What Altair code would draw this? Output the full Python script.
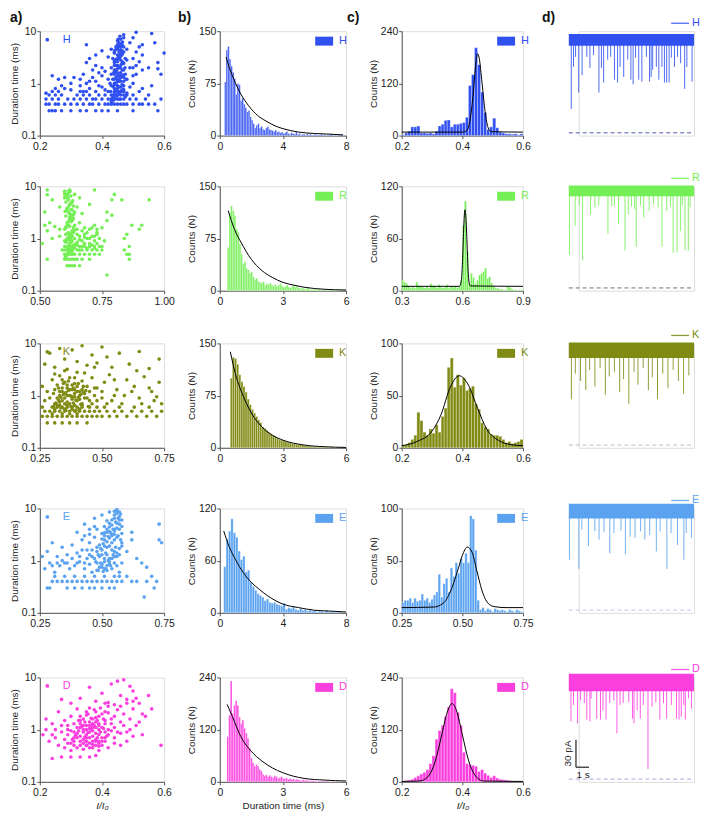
import altair as alt
import pandas as pd

FONT = "Liberation Sans"

SERIES = ["H", "R", "K", "E", "D"]
COLORS = ["#3050f0", "#74ef55", "#7f8b12", "#5ba3f0", "#fb3fdf"]
DASH_COLORS = ["#4d5aa8", "#707070", "#bcbcbc", "#b9c9f0", "#a0a8e0"]

# ---------------- column a : scatter (I/I0 vs duration) ----------------
SC_XDOM = [[0.2, 0.6], [0.5, 1.0], [0.25, 0.75], [0.25, 0.75], [0.2, 0.6]]
SC_XTICKS = [[0.2, 0.4, 0.6], [0.5, 0.75, 1.0], [0.25, 0.5, 0.75], [0.25, 0.5, 0.75], [0.2, 0.4, 0.6]]
SC_XFMT = [".1f", ".2f", ".2f", ".2f", ".1f"]

H_rows = {
    0.3: [0.23, 0.24, 0.25, 0.27, 0.30, 0.33, 0.35, 0.38, 0.40, 0.42, 0.45, 0.50, 0.58],
    0.4: [0.22, 0.23, 0.25, 0.26, 0.28, 0.30, 0.32, 0.34, 0.36, 0.37, 0.39, 0.41, 0.42, 0.43, 0.44, 0.45,
          0.46, 0.47, 0.48, 0.50, 0.52, 0.53, 0.55, 0.57],
    0.5: [0.22, 0.24, 0.26, 0.29, 0.31, 0.33, 0.35, 0.37, 0.38, 0.40, 0.42, 0.43, 0.44, 0.45, 0.46, 0.47,
          0.49, 0.51, 0.54, 0.59],
    0.6: [0.23, 0.25, 0.27, 0.32, 0.34, 0.36, 0.39, 0.41, 0.43, 0.44, 0.45, 0.46, 0.48, 0.50, 0.55],
    0.7: [0.24, 0.33, 0.35, 0.38, 0.42, 0.44, 0.45, 0.46, 0.47, 0.52],
}
H_free = [
    (0.22, 0.65), (0.25, 0.8), (0.27, 0.9), (0.30, 0.75), (0.33, 0.9), (0.35, 1.0), (0.36, 0.8), (0.38, 1.1),
    (0.40, 0.85), (0.42, 1.2), (0.43, 0.9), (0.44, 1.0), (0.445, 1.3), (0.45, 0.8), (0.455, 1.1), (0.46, 1.4),
    (0.47, 0.9), (0.48, 1.2), (0.50, 1.0), (0.51, 1.5), (0.53, 0.8), (0.56, 0.9),
    (0.24, 1.4), (0.26, 1.2), (0.28, 1.3), (0.31, 1.3), (0.34, 1.5), (0.35, 2.5), (0.36, 3.0), (0.37, 1.8),
    (0.38, 2.2), (0.39, 1.6), (0.40, 2.0), (0.41, 1.7), (0.43, 2.0), (0.44, 2.5), (0.445, 1.8), (0.45, 2.2),
    (0.455, 3.0), (0.46, 2.0), (0.465, 2.6), (0.47, 1.8), (0.48, 2.8), (0.49, 2.0), (0.50, 3.0), (0.51, 2.2),
    (0.53, 1.8), (0.55, 2.0), (0.58, 1.9), (0.59, 1.5),
    (0.35, 5.5), (0.38, 3.5), (0.40, 4.2), (0.42, 3.2), (0.43, 4.5), (0.44, 3.8), (0.445, 5.0), (0.45, 6.5),
    (0.455, 4.0), (0.46, 7.0), (0.465, 5.5), (0.47, 8.5), (0.48, 4.5), (0.49, 6.0), (0.50, 7.5), (0.51, 9.5),
    (0.52, 5.0), (0.53, 3.5), (0.56, 9.0), (0.57, 6.0), (0.60, 3.8), (0.58, 2.5),
    (0.44, 1.5), (0.445, 0.6), (0.45, 1.6), (0.455, 0.5), (0.46, 0.7), (0.45, 3.5), (0.455, 2.0), (0.46, 1.1),
    (0.44, 0.8), (0.45, 1.2), (0.46, 2.8), (0.47, 1.3), (0.445, 2.8), (0.455, 1.4), (0.46, 3.3), (0.465, 1.8),
    (0.47, 0.6), (0.44, 2.2), (0.45, 4.5), (0.46, 5.0),
    (0.43, 0.45), (0.435, 0.55), (0.44, 0.65), (0.445, 0.75), (0.45, 0.9), (0.455, 0.65), (0.46, 0.85),
    (0.465, 0.95), (0.47, 1.1), (0.475, 1.5), (0.435, 1.2), (0.44, 1.8), (0.445, 2.2), (0.45, 2.6),
    (0.455, 3.2), (0.46, 3.8), (0.465, 4.2), (0.47, 2.4), (0.475, 3.0), (0.435, 3.0), (0.44, 4.0),
    (0.45, 5.5), (0.455, 6.0), (0.46, 4.4), (0.465, 3.6), (0.47, 5.0), (0.45, 1.4), (0.46, 1.6), (0.44, 1.2),
    (0.455, 0.85), (0.465, 0.7), (0.47, 0.75), (0.475, 0.55), (0.48, 0.65), (0.49, 0.85), (0.50, 1.4),
    (0.50, 2.0), (0.52, 2.6), (0.51, 4.0), (0.53, 5.5), (0.36, 1.1), (0.37, 1.3), (0.39, 0.9), (0.40, 1.4),
    (0.41, 0.75), (0.33, 1.2), (0.34, 0.7), (0.30, 1.0), (0.28, 0.8), (0.26, 0.7),
]
H_core = [
    (0.432, 0.42), (0.438, 0.48), (0.442, 0.52), (0.448, 0.58), (0.452, 0.62), (0.458, 0.68), (0.462, 0.72),
    (0.468, 0.78), (0.436, 0.88), (0.442, 0.95), (0.448, 1.05), (0.452, 1.15), (0.458, 1.25), (0.462, 1.35),
    (0.468, 1.45), (0.438, 1.6), (0.444, 1.7), (0.45, 1.9), (0.456, 2.1), (0.462, 2.3), (0.468, 2.5),
    (0.44, 2.7), (0.446, 2.9), (0.452, 3.1), (0.458, 3.4), (0.464, 3.7), (0.47, 4.0), (0.442, 4.3),
    (0.448, 4.7), (0.454, 5.1), (0.46, 5.6), (0.466, 6.2), (0.452, 7.0), (0.458, 8.0), (0.47, 7.5),
    (0.474, 2.0), (0.478, 1.2), (0.428, 0.7), (0.426, 1.0), (0.43, 1.5),
]

R_rows = {
    0.3: [0.61, 0.62, 0.63, 0.64, 0.66],
    0.4: [0.53, 0.60, 0.61, 0.62, 0.63, 0.64, 0.65, 0.67, 0.70, 0.86],
    0.5: [0.60, 0.61, 0.62, 0.63, 0.64, 0.66, 0.68, 0.70, 0.72, 0.74, 0.85, 0.86],
    0.6: [0.59, 0.60, 0.61, 0.62, 0.63, 0.65, 0.67, 0.69, 0.71, 0.73, 0.75, 0.84],
    0.7: [0.60, 0.61, 0.62, 0.63, 0.64, 0.66, 0.68, 0.70, 0.72, 0.75, 0.86],
}
R_free = [
    (0.51, 0.8), (0.55, 1.0), (0.58, 1.1), (0.60, 0.9), (0.61, 1.0), (0.62, 0.8), (0.62, 1.2), (0.63, 0.9),
    (0.63, 1.1), (0.64, 1.0), (0.65, 0.85), (0.66, 1.1), (0.67, 0.9), (0.68, 1.2), (0.69, 1.0), (0.70, 0.8),
    (0.71, 1.1), (0.72, 0.9), (0.73, 1.2), (0.74, 1.0), (0.76, 0.9), (0.84, 1.0), (0.85, 1.2),
    (0.52, 1.8), (0.53, 1.4), (0.54, 2.0), (0.56, 1.7), (0.58, 1.5), (0.60, 1.5), (0.61, 2.0), (0.62, 1.7),
    (0.62, 2.5), (0.63, 1.4), (0.63, 2.2), (0.64, 1.8), (0.65, 1.5), (0.66, 2.0), (0.68, 1.6), (0.70, 1.5),
    (0.72, 1.8), (0.73, 1.3), (0.75, 1.6), (0.77, 2.2), (0.79, 2.8), (0.87, 1.8), (0.90, 1.5), (0.91, 1.8),
    (0.53, 8.5), (0.55, 5.5), (0.52, 3.2), (0.58, 4.0), (0.60, 8.0), (0.61, 6.0), (0.62, 4.5), (0.62, 8.5),
    (0.63, 3.5), (0.63, 5.0), (0.64, 7.0), (0.65, 4.0), (0.66, 6.0), (0.64, 3.2), (0.67, 3.0), (0.70, 4.5),
    (0.72, 8.5), (0.77, 3.2), (0.79, 5.5), (0.80, 7.0), (0.83, 5.5), (0.94, 5.5), (0.62, 3.0), (0.61, 3.8),
    (0.77, 0.2), (0.615, 1.3), (0.625, 0.95), (0.635, 1.6), (0.605, 1.2), (0.625, 2.8),
    (0.605, 0.45), (0.615, 0.55), (0.625, 0.65), (0.635, 0.75), (0.605, 0.85), (0.615, 0.95), (0.625, 1.05),
    (0.635, 1.3), (0.605, 1.6), (0.615, 1.8), (0.625, 2.1), (0.635, 2.4), (0.605, 2.7), (0.615, 3.2),
    (0.625, 3.6), (0.635, 4.2), (0.605, 5.0), (0.615, 5.5), (0.625, 6.5), (0.61, 7.0), (0.60, 6.0),
    (0.63, 0.55), (0.64, 0.65), (0.65, 0.75), (0.66, 0.6), (0.67, 0.7), (0.68, 0.8), (0.69, 0.65),
    (0.70, 0.7), (0.71, 0.75), (0.72, 0.65), (0.73, 0.8), (0.74, 0.7), (0.66, 0.95), (0.68, 1.05),
    (0.70, 1.0), (0.72, 1.1), (0.65, 1.2), (0.67, 1.4), (0.69, 1.3), (0.71, 1.6), (0.73, 1.5),
]
R_core = [
    (0.602, 0.42), (0.608, 0.48), (0.614, 0.52), (0.62, 0.58), (0.626, 0.62), (0.632, 0.68), (0.638, 0.72),
    (0.644, 0.78), (0.604, 0.88), (0.61, 0.95), (0.616, 1.05), (0.622, 1.15), (0.628, 1.25), (0.634, 1.35),
    (0.64, 1.45), (0.606, 1.7), (0.612, 1.9), (0.618, 2.2), (0.624, 2.4), (0.63, 2.6), (0.636, 2.9),
    (0.602, 3.3), (0.608, 3.6), (0.614, 4.0), (0.62, 4.4), (0.626, 4.8), (0.632, 5.3), (0.604, 6.2),
    (0.61, 6.8), (0.616, 7.5), (0.622, 8.0), (0.60, 7.2), (0.63, 0.5), (0.612, 0.62), (0.618, 0.75),
    (0.624, 0.85),
]

K_rows = {
    0.3: [0.28, 0.31, 0.34, 0.37, 0.40, 0.44],
    0.4: [0.26, 0.28, 0.30, 0.32, 0.34, 0.36, 0.38, 0.40, 0.42, 0.44, 0.46, 0.48, 0.50, 0.53, 0.56, 0.60,
          0.64, 0.68, 0.72],
    0.5: [0.27, 0.29, 0.31, 0.33, 0.35, 0.37, 0.39, 0.41, 0.43, 0.45, 0.47, 0.49, 0.52, 0.55, 0.58, 0.62,
          0.66, 0.70, 0.74],
    0.6: [0.26, 0.30, 0.32, 0.34, 0.36, 0.38, 0.40, 0.42, 0.45, 0.48, 0.51, 0.57, 0.63, 0.69],
}
K_free = [
    (0.27, 0.8), (0.29, 0.9), (0.31, 0.7), (0.33, 1.0), (0.34, 0.8), (0.35, 0.9), (0.36, 0.75), (0.37, 1.0),
    (0.38, 0.85), (0.39, 0.95), (0.40, 0.8), (0.41, 1.0), (0.42, 0.7), (0.43, 0.9), (0.45, 0.8), (0.47, 1.0),
    (0.50, 0.9), (0.54, 0.8), (0.59, 1.0), (0.65, 0.9), (0.71, 0.8),
    (0.26, 1.5), (0.28, 1.2), (0.30, 2.0), (0.31, 1.3), (0.32, 1.6), (0.33, 2.4), (0.34, 1.2), (0.35, 1.8),
    (0.36, 1.4), (0.37, 2.2), (0.38, 1.3), (0.39, 1.7), (0.40, 2.8), (0.41, 1.2), (0.42, 1.9), (0.44, 1.5),
    (0.46, 2.2), (0.48, 1.4), (0.51, 1.8), (0.53, 2.5), (0.56, 1.3), (0.60, 2.0), (0.63, 1.5), (0.67, 2.3),
    (0.70, 1.2), (0.73, 1.8),
    (0.27, 4.0), (0.29, 6.5), (0.31, 3.5), (0.33, 8.0), (0.35, 5.0), (0.36, 3.2), (0.38, 7.5), (0.40, 4.5),
    (0.42, 9.0), (0.44, 3.8), (0.46, 6.0), (0.48, 4.2), (0.50, 8.5), (0.54, 3.5), (0.57, 6.5), (0.61, 4.0),
    (0.65, 7.0), (0.69, 3.3), (0.73, 5.0), (0.52, 5.5),
    (0.33, 0.65), (0.35, 1.1), (0.37, 0.7), (0.39, 1.3), (0.36, 1.6), (0.34, 2.0), (0.38, 0.95), (0.40, 1.5),
    (0.30, 0.45), (0.31, 0.55), (0.32, 0.65), (0.33, 0.75), (0.34, 0.45), (0.35, 0.55), (0.36, 0.65),
    (0.37, 0.45), (0.38, 0.55), (0.39, 0.65), (0.40, 0.45), (0.41, 0.55), (0.42, 0.65), (0.32, 0.9),
    (0.33, 1.2), (0.34, 1.4), (0.35, 0.7), (0.36, 1.0), (0.37, 1.3), (0.38, 1.6), (0.39, 1.1), (0.40, 1.2),
    (0.41, 0.85), (0.42, 1.3), (0.43, 1.1), (0.44, 0.9), (0.45, 1.2), (0.46, 0.7), (0.47, 1.4), (0.48, 0.8),
    (0.50, 1.2), (0.52, 0.7), (0.55, 1.0), (0.58, 0.7), (0.62, 1.2), (0.66, 0.7), (0.69, 1.4), (0.72, 0.95),
    (0.31, 2.6), (0.35, 3.0), (0.39, 2.2), (0.43, 2.7), (0.47, 3.5), (0.55, 2.0), (0.64, 3.0), (0.74, 0.7),
]
K_core = [
    (0.305, 0.62), (0.315, 0.72), (0.325, 0.82), (0.335, 0.92), (0.345, 1.05), (0.355, 1.15), (0.365, 1.25),
    (0.375, 0.62), (0.385, 0.72), (0.395, 0.82), (0.405, 0.92), (0.415, 1.05), (0.425, 1.15), (0.435, 1.25),
    (0.445, 0.62), (0.305, 1.1), (0.325, 1.4), (0.345, 1.7), (0.365, 1.9), (0.385, 1.4), (0.405, 1.7),
    (0.425, 1.5), (0.355, 0.52), (0.395, 0.52), (0.335, 0.58), (0.375, 0.98), (0.415, 0.68),
]

E_rows = {
    0.3: [0.28, 0.29, 0.36, 0.39, 0.42, 0.45, 0.47, 0.50, 0.53, 0.55, 0.71],
    0.4: [0.30, 0.32, 0.34, 0.36, 0.38, 0.40, 0.42, 0.44, 0.46, 0.48, 0.50, 0.52, 0.54, 0.56, 0.58, 0.62,
          0.64, 0.68, 0.72],
    0.5: [0.31, 0.35, 0.39, 0.43, 0.47, 0.51, 0.55, 0.57, 0.60, 0.70],
}
E_free = [
    (0.27, 0.7), (0.29, 0.9), (0.31, 0.6), (0.33, 0.8), (0.35, 0.9), (0.37, 0.7), (0.39, 0.8), (0.41, 0.95),
    (0.43, 0.7), (0.45, 0.85), (0.46, 0.6), (0.48, 0.9), (0.50, 0.75), (0.51, 0.95), (0.52, 0.65), (0.53, 0.85),
    (0.54, 0.7), (0.55, 0.9), (0.56, 0.8), (0.57, 0.6), (0.58, 0.9), (0.66, 0.9), (0.68, 0.75),
    (0.26, 1.2), (0.28, 1.5), (0.30, 2.2), (0.32, 1.2), (0.34, 1.8), (0.36, 1.3), (0.38, 2.0), (0.40, 1.4),
    (0.42, 2.5), (0.44, 1.6), (0.45, 2.2), (0.46, 1.2), (0.47, 2.8), (0.48, 1.5), (0.49, 2.0), (0.50, 1.3),
    (0.51, 2.5), (0.52, 1.8), (0.53, 1.1), (0.54, 2.2), (0.55, 1.5), (0.56, 2.8), (0.57, 1.3), (0.58, 1.9),
    (0.60, 1.5), (0.62, 2.5), (0.64, 1.1),
    (0.40, 3.5), (0.43, 5.0), (0.45, 3.2), (0.47, 6.5), (0.48, 4.0), (0.50, 3.3), (0.50, 7.5), (0.51, 4.5),
    (0.52, 5.8), (0.53, 3.6), (0.53, 8.5), (0.54, 4.8), (0.55, 6.5), (0.55, 3.2), (0.56, 9.0), (0.56, 5.2),
    (0.57, 7.0), (0.57, 4.0), (0.58, 3.3), (0.62, 3.5), (0.73, 5.0), (0.74, 2.2), (0.73, 2.5), (0.67, 0.2),
    (0.52, 1.3), (0.54, 1.6), (0.55, 2.5), (0.53, 1.9), (0.56, 1.2), (0.51, 1.1), (0.55, 4.0), (0.54, 3.0),
    (0.48, 0.65), (0.49, 0.75), (0.50, 0.85), (0.51, 0.7), (0.52, 0.8), (0.53, 0.95), (0.54, 1.1),
    (0.55, 1.2), (0.56, 1.4), (0.57, 1.7), (0.58, 2.2), (0.50, 1.6), (0.51, 1.9), (0.52, 2.3), (0.53, 2.7),
    (0.54, 3.2), (0.55, 3.7), (0.56, 4.2), (0.57, 5.0), (0.58, 6.0), (0.55, 7.5), (0.56, 8.0), (0.57, 8.5),
    (0.54, 6.0), (0.53, 4.4), (0.52, 3.5), (0.51, 3.0), (0.50, 2.6), (0.49, 1.2), (0.48, 1.8), (0.47, 1.1),
    (0.46, 1.6), (0.45, 1.3), (0.44, 1.1), (0.43, 0.9), (0.42, 1.6), (0.41, 1.2), (0.40, 0.9), (0.38, 1.1),
    (0.36, 0.9), (0.34, 1.0), (0.32, 0.9), (0.30, 0.8), (0.45, 4.0), (0.43, 3.0), (0.47, 4.5),
]
E_core = [
    (0.475, 0.95), (0.485, 1.3), (0.495, 1.7), (0.505, 2.1), (0.515, 1.4), (0.525, 2.9), (0.535, 3.4),
    (0.545, 4.0), (0.555, 5.5), (0.565, 6.5), (0.575, 7.8), (0.565, 3.0), (0.575, 2.5), (0.555, 1.8),
    (0.545, 1.3), (0.535, 0.8), (0.525, 1.0), (0.515, 0.7), (0.505, 0.62), (0.495, 0.9), (0.485, 0.65),
    (0.56, 9.5), (0.55, 8.8), (0.57, 6.0), (0.58, 4.5), (0.53, 5.2), (0.52, 4.0), (0.51, 3.4),
]

D_rows = {}
D_free = [
    (0.24, 0.28), (0.27, 0.3), (0.30, 0.3), (0.33, 0.3), (0.36, 0.3), (0.38, 0.32),
    (0.23, 0.6), (0.26, 0.5), (0.28, 0.45), (0.29, 0.55), (0.30, 0.4), (0.31, 0.5), (0.32, 0.45), (0.33, 0.6),
    (0.34, 0.42), (0.35, 0.5), (0.36, 0.55), (0.37, 0.45), (0.38, 0.6), (0.39, 0.4), (0.40, 0.5), (0.41, 0.6),
    (0.42, 0.45), (0.44, 0.55), (0.46, 0.5), (0.48, 0.6), (0.59, 0.5),
    (0.21, 0.8), (0.22, 1.0), (0.25, 0.7), (0.27, 0.9), (0.28, 0.65), (0.29, 0.8), (0.30, 0.95), (0.31, 0.7),
    (0.32, 0.85), (0.33, 0.75), (0.34, 0.9), (0.34, 0.65), (0.35, 0.8), (0.35, 1.0), (0.36, 0.7), (0.36, 0.9),
    (0.37, 0.75), (0.37, 0.95), (0.38, 0.65), (0.38, 0.85), (0.39, 0.8), (0.39, 1.0), (0.40, 0.7), (0.41, 0.9),
    (0.42, 0.8), (0.43, 0.95), (0.44, 0.7), (0.46, 0.85), (0.48, 0.9), (0.50, 0.75), (0.53, 0.8),
    (0.22, 1.6), (0.24, 1.3), (0.26, 2.2), (0.28, 1.5), (0.29, 1.2), (0.30, 1.8), (0.31, 1.3), (0.32, 2.5),
    (0.33, 1.5), (0.34, 1.2), (0.35, 1.9), (0.36, 1.4), (0.36, 2.6), (0.37, 1.2), (0.38, 1.7), (0.38, 2.2),
    (0.39, 1.3), (0.40, 2.0), (0.41, 1.5), (0.42, 2.8), (0.43, 1.3), (0.44, 1.8), (0.45, 2.4), (0.46, 1.4),
    (0.47, 2.0), (0.49, 1.6), (0.50, 2.5), (0.52, 1.4), (0.54, 1.8), (0.56, 2.5),
    (0.27, 3.8), (0.30, 3.2), (0.33, 4.0), (0.36, 6.5), (0.38, 3.5), (0.40, 5.0), (0.42, 3.3), (0.43, 7.5),
    (0.45, 8.5), (0.46, 4.5), (0.47, 9.0), (0.48, 3.8), (0.49, 6.8), (0.50, 5.5), (0.51, 4.0), (0.52, 3.2),
    (0.55, 4.5),
    (0.33, 1.1), (0.35, 0.6), (0.37, 1.1), (0.39, 0.6), (0.36, 1.2), (0.34, 1.6), (0.38, 1.4), (0.35, 0.7),
    (0.30, 0.55), (0.31, 0.6), (0.32, 0.7), (0.33, 0.5), (0.34, 0.55), (0.35, 0.6), (0.36, 0.45), (0.37, 0.6),
    (0.38, 0.5), (0.39, 0.55), (0.40, 0.6), (0.41, 0.7), (0.31, 0.9), (0.32, 1.1), (0.33, 1.3), (0.34, 1.0),
    (0.35, 1.2), (0.36, 1.05), (0.37, 1.3), (0.38, 1.1), (0.39, 1.2), (0.40, 1.1), (0.41, 1.3), (0.42, 1.0),
    (0.33, 1.8), (0.35, 2.2), (0.37, 1.6), (0.39, 1.8), (0.41, 2.2), (0.43, 1.6), (0.44, 1.1), (0.45, 0.9),
    (0.47, 1.2), (0.49, 1.0), (0.51, 1.2), (0.29, 1.0), (0.27, 1.2), (0.25, 1.0), (0.24, 0.8), (0.44, 3.0),
    (0.46, 2.8), (0.48, 3.2), (0.50, 3.5), (0.53, 2.0),
]
D_core = [
    (0.305, 0.65), (0.315, 0.78), (0.325, 0.95), (0.335, 1.15), (0.345, 0.72), (0.355, 0.88), (0.365, 1.02),
    (0.375, 1.2), (0.385, 0.7), (0.395, 0.9), (0.405, 1.05), (0.415, 0.75), (0.325, 1.5), (0.345, 1.4),
    (0.365, 1.65), (0.385, 1.5), (0.405, 1.6), (0.355, 2.0), (0.375, 2.4), (0.395, 2.6), (0.41, 3.2),
    (0.42, 2.1), (0.35, 0.5), (0.37, 0.52), (0.39, 0.48),
]

SC_ROWS = [H_rows, R_rows, K_rows, E_rows, D_rows]
SC_FREE = [H_free + H_core, R_free + R_core, K_free + K_core, E_free + E_core, D_free + D_core]

# ---------------- column b : duration histograms ----------------
DUR_START = [0.3, 0.36, 0.5, 0.25, 0.34]
DUR_WIDTH = [0.1, 0.08, 0.1, 0.15, 0.08]
H_dur = [77, 123, 128, 110, 100, 91, 82, 59, 75, 73, 50, 54, 45, 40, 34, 36, 27, 22, 17, 11, 15, 17, 11, 13, 9,
         8, 11, 13, 9, 8, 7, 6, 8, 5, 6, 4, 5, 3, 4, 6, 3, 2, 4, 3, 2, 5, 2, 3, 1, 2, 2, 1, 3, 1, 2, 1, 1, 2, 1,
         1, 1, 2, 1, 1, 0, 1, 1, 2, 1, 0, 1, 0, 1, 1, 2]
R_dur = [62, 112, 122, 115, 108, 89, 84, 67, 53, 39, 42, 32, 30, 25, 27, 20, 16, 18, 13, 12, 11, 13, 8,
         10, 9, 11, 8, 7, 9, 6, 8, 10, 7, 5, 6, 8, 5, 4, 6, 9, 5, 7, 4, 3, 4, 3, 2, 4, 3, 2, 1, 3, 2,
         1, 2, 1, 1, 2, 1, 0, 1, 2, 1, 1, 0, 1, 2, 1]
K_dur = [100, 130, 128, 120, 105, 95, 88, 80, 70, 62, 55, 50, 45, 40, 36, 30, 28, 25, 22, 20, 18, 16, 14, 12,
         11, 10, 9, 8, 7, 6, 6, 5, 5, 4, 4, 3, 3, 3, 2, 2, 2, 1, 2, 1, 1, 1, 0, 1, 1, 0, 1, 0, 1]
E_dur = [53, 85, 94, 108, 92, 87, 71, 61, 65, 47, 49, 35, 30, 26, 22, 20, 18, 14, 16, 12, 11, 12, 10, 9, 8, 11,
         4, 6, 5, 7, 4, 3, 5, 3, 4, 2, 3, 2, 3, 1, 2, 2, 1, 3, 1, 2, 1, 1, 2, 1]
D_dur = [104, 153, 232, 157, 176, 187, 176, 149, 134, 142, 123, 112, 100, 78, 55, 44, 36, 40, 36, 29, 25, 17,
         14, 16, 12, 15, 12, 10, 14, 12, 8, 10, 12, 8, 7, 9, 6, 8, 5, 7, 4, 6, 5, 4, 3, 5, 3, 4, 2, 3, 2, 3,
         2, 1, 2, 1, 2, 1, 1, 2, 1, 0, 1, 1, 0, 1, 1, 0]
DUR_COUNTS = [H_dur, R_dur, K_dur, E_dur, D_dur]

H_dur_fit = [(0.4, 113), (0.6, 98), (0.8, 86), (1.0, 75), (1.3, 61), (1.6, 50), (2.0, 38), (2.5, 27), (3.0, 20),
             (3.5, 14), (4.0, 10), (5.0, 5), (6.0, 3), (7.0, 2), (7.8, 1)]
R_dur_fit = [(0.4, 115), (0.7, 88), (1.0, 70), (1.5, 45), (2.0, 29), (2.5, 19), (3.0, 12), (3.5, 8), (4.0, 5),
             (5.0, 2), (6.0, 1)]
K_dur_fit = [(0.5, 138), (0.8, 100), (1.0, 83), (1.5, 50), (2.0, 30), (2.5, 18), (3.0, 11), (4.0, 4), (5.0, 1.5),
             (6.0, 0.5)]
E_dur_fit = [(0.25, 94), (0.6, 76), (1.0, 61), (1.5, 46), (2.0, 35), (2.5, 27), (3.0, 20), (4.0, 10), (5.0, 6),
             (6.0, 3), (7.0, 2), (8.0, 1)]
D_dur_fit = [(0.35, 178), (0.6, 150), (1.0, 104), (1.5, 70), (2.0, 48), (2.5, 32), (3.0, 21), (3.5, 13),
             (4.0, 8), (5.0, 4), (6.0, 2)]
DUR_FITS = [H_dur_fit, R_dur_fit, K_dur_fit, E_dur_fit, D_dur_fit]
DUR_XDOM = [[0, 8], [0, 6], [0, 6], [0, 8], [0, 6]]
DUR_XTICKS = [[0, 4, 8], [0, 3, 6], [0, 3, 6], [0, 4, 8], [0, 3, 6]]
DUR_YDOM = [[0, 150], [0, 150], [0, 150], [0, 120], [0, 240]]
DUR_YTICKS = [[0, 75, 150], [0, 75, 150], [0, 75, 150], [0, 60, 120], [0, 120, 240]]

# ---------------- column c : residual current histograms ----------------
RES_START = [0.20, 0.30, 0.20, 0.25, 0.20]
RES_WIDTH = [0.01, 0.01, 0.01, 0.01, 0.01]
H_res = [2, 6, 10, 20, 20, 22, 6, 6, 5, 6, 4, 10, 22, 26, 35, 36, 20, 26, 26, 28, 30, 42, 115, 140, 202, 163,
         100, 53, 14, 20, 40, 18, 8, 6, 4, 4, 3, 4, 2, 4]
R_res = [12, 10, 8, 5, 3, 5, 3, 10, 6, 5, 4, 3, 5, 3, 8, 6, 5, 3, 7, 4, 3, 4, 7, 3, 5, 4, 5, 3, 5, 12,
         75, 103, 45, 8, 20, 15, 8, 12, 18, 20, 22, 26, 14, 16, 9, 5, 3, 3, 2, 2, 1, 1, 5, 4, 2, 1, 1, 0, 1, 1]
K_res = [2, 3, 5, 8, 12, 34, 26, 15, 12, 18, 14, 22, 15, 30, 38, 77, 86, 58, 70, 60, 67, 55, 57, 59, 42, 37, 24,
         20, 18, 13, 12, 12, 11, 8, 5, 6, 4, 5, 6, 8]
E_res = [10, 12, 12, 14, 10, 14, 11, 12, 18, 12, 14, 10, 13, 17, 20, 37, 15, 28, 33, 20, 43, 35, 48, 38, 52, 48,
         57, 48, 93, 90, 60, 12, 3, 5, 2, 4, 3, 1, 4, 3, 2, 3, 2, 1, 3, 2, 1, 3, 2, 1]
D_res = [2, 3, 4, 6, 10, 14, 18, 22, 28, 42, 60, 98, 118, 130, 150, 172, 214, 205, 160, 130, 68, 42, 40, 38, 36,
         24, 28, 20, 15, 10, 14, 9, 6, 5, 4, 3, 2, 2, 1, 1]
RES_COUNTS = [H_res, R_res, K_res, E_res, D_res]

H_res_fit = [(0.2, 8), (0.40, 8), (0.415, 12), (0.425, 35), (0.435, 90), (0.445, 170), (0.45, 188), (0.455, 180),
             (0.465, 120), (0.475, 55), (0.485, 18), (0.495, 9), (0.6, 8)]
R_res_fit = [(0.3, 5), (0.585, 5), (0.595, 12), (0.60, 30), (0.605, 62), (0.61, 88), (0.613, 93), (0.618, 82),
             (0.623, 55), (0.628, 25), (0.633, 10), (0.64, 5.5), (0.9, 5)]
K_res_fit = [(0.2, 2), (0.25, 6), (0.3, 16), (0.33, 32), (0.36, 58), (0.39, 69), (0.42, 60), (0.45, 38),
             (0.48, 18), (0.52, 7), (0.56, 3), (0.6, 2)]
E_res_fit = [(0.25, 5), (0.38, 5.5), (0.42, 9), (0.45, 20), (0.48, 40), (0.50, 55), (0.52, 63), (0.54, 58),
             (0.56, 40), (0.58, 22), (0.60, 11), (0.63, 6), (0.68, 5), (0.75, 5)]
D_res_fit = [(0.2, 1), (0.26, 2), (0.29, 15), (0.31, 46), (0.33, 102), (0.35, 160), (0.366, 180), (0.38, 165),
             (0.40, 108), (0.42, 50), (0.44, 17), (0.47, 2), (0.6, 1)]
RES_FITS = [H_res_fit, R_res_fit, K_res_fit, E_res_fit, D_res_fit]
RES_XDOM = [[0.2, 0.6], [0.3, 0.9], [0.2, 0.6], [0.25, 0.75], [0.2, 0.6]]
RES_XTICKS = [[0.2, 0.4, 0.6], [0.3, 0.6, 0.9], [0.2, 0.4, 0.6], [0.25, 0.5, 0.75], [0.2, 0.4, 0.6]]
RES_XFMT = [".1f", ".1f", ".1f", ".2f", ".1f"]
RES_YDOM = [[0, 240], [0, 120], [0, 100], [0, 100], [0, 240]]
RES_YTICKS = [[0, 120, 240], [0, 60, 120], [0, 50, 100], [0, 50, 100], [0, 120, 240]]

# ---------------- column d : current traces (time s, current pA) ----------------
TRACE_T = [0.0, 9.6]
TRACE_VIEW = [0.76, 9.6]
BANDS = [(95, 108), (100, 112), (95, 112), (100, 116), (96, 115)]
H_spk = [(0.19, 26), (0.36, 72), (0.52, 83), (0.76, 44), (1.02, 63), (1.38, 83), (1.62, 71), (1.90, 85),
         (2.31, 44), (2.50, 71), (2.67, 55), (2.98, 80), (3.21, 83), (3.50, 58), (3.74, 55), (3.93, 72),
         (4.21, 61), (4.52, 80), (4.76, 58), (4.93, 53), (5.12, 82), (5.36, 58), (5.60, 56), (5.95, 83),
         (6.19, 56), (6.31, 61), (6.43, 69), (6.71, 72), (6.90, 58), (7.14, 72), (7.33, 55), (7.50, 55),
         (7.69, 55), (7.86, 82), (8.10, 72), (8.33, 83), (8.57, 76), (8.88, 48), (9.05, 72), (9.45, 56)]
R_spk = [(0.05, 36), (0.49, 68), (1.06, 30), (1.67, 80), (3.0, 59), (3.81, 70), (4.31, 41), (4.56, 80),
         (5.05, 86), (5.17, 45), (5.74, 77), (6.16, 84), (6.85, 88), (7.14, 45), (7.51, 84), (8.0, 38),
         (8.3, 39), (8.57, 62), (8.91, 41), (9.16, 41), (0.8, 90), (2.0, 88), (2.3, 90), (3.3, 89), (3.5, 90),
         (4.8, 89), (5.5, 90), (6.5, 91), (7.8, 89), (8.7, 90), (9.3, 88)]
K_spk = [(0.2, 50), (0.5, 78), (0.9, 70), (1.3, 60), (1.6, 82), (2.0, 64), (2.4, 84), (2.8, 55), (3.1, 75),
         (3.5, 80), (3.9, 58), (4.2, 72), (4.6, 45), (5.0, 80), (5.3, 66), (5.7, 84), (6.1, 60), (6.4, 74),
         (6.8, 50), (7.2, 78), (7.6, 62), (8.0, 82), (8.4, 70), (8.8, 56), (9.2, 76)]
E_spk = [(0.05, 55), (0.77, 45), (1.51, 70), (2.32, 77), (3.14, 62), (3.46, 84), (4.34, 61), (5.08, 79),
         (5.83, 77), (6.71, 64), (7.52, 45), (7.84, 84), (8.33, 71), (8.82, 55), (9.4, 79), (1.0, 88), (2.0, 86),
         (2.7, 85), (4.0, 87), (4.7, 80), (5.5, 86), (6.2, 82), (7.0, 86), (9.0, 84)]
D_spk = [(0.17, 63), (0.36, 81), (0.67, 61), (0.90, 86), (1.19, 83), (1.38, 65), (1.62, 63), (1.71, 88),
         (2.14, 66), (2.43, 65), (2.62, 75), (2.86, 65), (3.14, 83), (3.45, 86), (3.69, 50), (3.93, 81),
         (4.17, 83), (4.60, 84), (4.88, 66), (5.0, 61), (5.24, 75), (5.48, 66), (5.71, 81), (6.07, 11),
         (6.38, 79), (6.67, 84), (6.98, 65), (7.26, 83), (7.5, 66), (7.86, 81), (8.26, 66), (8.45, 65),
         (8.62, 68), (8.81, 81), (8.93, 65), (9.17, 88), (9.40, 77)]
SPIKES = [H_spk, R_spk, K_spk, E_spk, D_spk]
SCALEBAR_RULES = [(0.55, 0.55, 13, 43), (0.55, 1.55, 13, 13)]
SCALEBAR_TEXT = [("30 pA", 0.35, 28), ("1 s", 1.1, 10)]

W = [125, 127, 122, 116]
HT = 105
COL_GAP = 56
ROW_GAPS = [15, 17, 25, 29]
LETTERS = ["a)", "b)", "c)", "d)"]
LETTER_X = [-30, -42, -55, -37]


def ax(**kw):
    base = dict(labelFont=FONT, titleFont=FONT, labelFontSize=10.5, titleFontSize=10,
                titleFontWeight="normal", labelColor="#222222", titleColor="#222222",
                domainColor="#555555", tickColor="#555555", tickSize=3, grid=False,
                labelPadding=1, titlePadding=2, labelFlush=False)
    base.update(kw)
    return alt.Axis(**base)


def xax(**kw):
    return ax(labelPadding=3, **kw)


def letter_layer(col):
    return alt.Chart(pd.DataFrame({"lab": [LETTERS[col]]})).mark_text(
        font=FONT, fontSize=14, fontWeight="bold", color="#111111", align="left", baseline="bottom").encode(
        x=alt.value(LETTER_X[col]), y=alt.value(-6), text="lab:N")


def scatter_panel(i, last):
    recs = []
    for yv, xs in SC_ROWS[i].items():
        recs += [(x, yv) for x in xs]
    recs += SC_FREE[i]
    df = pd.DataFrame(recs, columns=["x", "y"])
    df["s"] = SERIES[i]
    xt = "I/I\u2080" if last else None
    ch = alt.Chart(df).mark_circle(size=13, opacity=1).encode(
        x=alt.X("x:Q", scale=alt.Scale(domain=SC_XDOM[i], nice=False, zero=False),
                axis=xax(values=SC_XTICKS[i], format=SC_XFMT[i], title=xt, titleFontStyle="italic")),
        y=alt.Y("y:Q", scale=alt.Scale(type="log", domain=[0.1, 10], nice=False),
                axis=ax(values=[0.1, 1, 10], format="~g", title="Duration time (ms)")),
        color=alt.Color("s:N", scale=alt.Scale(domain=[SERIES[i]], range=[COLORS[i]]),
                        legend=alt.Legend(orient="none", legendX=2, legendY=3, title=None,
                                          symbolType="circle", symbolSize=14, labelColor=COLORS[i],
                                          labelFont=FONT, labelFontSize=11, labelOffset=10, padding=0)),
    )
    layers = [ch]
    if i == 0:
        layers.append(letter_layer(0))
    return alt.layer(*layers).properties(width=W[0], height=HT)


def hist_panel(start, width, counts, fit, i, xdom, xticks, xfmt, ydom, yticks, xtitle, col):
    n = len(counts)
    df = pd.DataFrame({"x0": [start + k * width for k in range(n)],
                       "x1": [start + (k + 1) * width for k in range(n)], "c": counts})
    df["base"] = 0
    df["s"] = SERIES[i]
    fdf = pd.DataFrame(fit, columns=["x", "c"])
    xs = alt.Scale(domain=xdom, nice=False, zero=False)
    ys = alt.Scale(domain=ydom, nice=False)
    italic = xtitle is not None and xtitle.startswith("I/")
    bars = alt.Chart(df).mark_bar(stroke="white", strokeWidth=0.3, opacity=1).encode(
        x=alt.X("x0:Q", scale=xs, axis=xax(values=xticks, format=xfmt, title=xtitle,
                                           titleFontStyle=("italic" if italic else "normal"))),
        x2=alt.X2("x1"),
        y=alt.Y("c:Q", scale=ys, axis=ax(values=yticks, title="Counts (N)")),
        y2=alt.Y2("base"),
        color=alt.Color("s:N", scale=alt.Scale(domain=[SERIES[i]], range=[COLORS[i]]),
                        legend=alt.Legend(orient="none", legendX=96, legendY=1, title=None,
                                          symbolType="M-1,-0.5H1V0.5H-1Z", symbolSize=324,
                                          symbolStrokeWidth=0, symbolOpacity=1, labelColor=COLORS[i],
                                          labelFont=FONT, labelFontSize=11, labelOffset=6, padding=0)),
    )
    line = alt.Chart(fdf).mark_line(color="black", strokeWidth=1, interpolate="monotone").encode(
        x=alt.X("x:Q", scale=xs), y=alt.Y("c:Q", scale=ys))
    layers = [bars, line]
    if i == 0:
        layers.append(letter_layer(col))
    return alt.layer(*layers).properties(width=W[col], height=HT)


def trace_panel(i):
    xs = alt.Scale(domain=TRACE_VIEW, nice=False, zero=False)
    ys = alt.Scale(domain=[-3, 111], nice=False, zero=False)
    lo, hi = BANDS[i]
    band = alt.Chart(pd.DataFrame({"t0": [TRACE_T[0]], "t1": [TRACE_T[1]], "lo": [lo], "hi": [hi]})).mark_rect(
        color=COLORS[i]).encode(
        x=alt.X("t0:Q", scale=xs, axis=None), x2=alt.X2("t1"),
        y=alt.Y("lo:Q", scale=ys, axis=None), y2=alt.Y2("hi"))
    sdf = pd.DataFrame(SPIKES[i], columns=["t", "tip"])
    sdf["top"] = lo + 1
    sdf["s"] = SERIES[i]
    spikes = alt.Chart(sdf).mark_rule(strokeWidth=1, opacity=0.85).encode(
        x=alt.X("t:Q", scale=xs, axis=None),
        y=alt.Y("top:Q", scale=ys, axis=None), y2=alt.Y2("tip"),
        color=alt.Color("s:N", scale=alt.Scale(domain=[SERIES[i]], range=[COLORS[i]]),
                        legend=alt.Legend(orient="none", legendX=92, legendY=-18, title=None,
                                          symbolType="stroke", symbolSize=324, symbolStrokeWidth=1.3,
                                          labelColor=COLORS[i], labelFont=FONT, labelFontSize=11,
                                          labelOffset=2, padding=0)))
    zero = alt.Chart(pd.DataFrame({"t0": [TRACE_T[0]], "t1": [TRACE_T[1]], "i": [0]})).mark_rule(
        color=DASH_COLORS[i], strokeDash=[4, 3], strokeWidth=1).encode(
        x=alt.X("t0:Q", scale=xs, axis=None), x2=alt.X2("t1"), y=alt.Y("i:Q", scale=ys, axis=None))
    layers = [band, spikes, zero]
    if i == 4:
        bdf = pd.DataFrame(SCALEBAR_RULES, columns=["t0", "t1", "i0", "i1"])
        bar = alt.Chart(bdf).mark_rule(color="#222222", strokeWidth=1.2).encode(
            x=alt.X("t0:Q", scale=xs, axis=None), x2=alt.X2("t1"),
            y=alt.Y("i0:Q", scale=ys, axis=None), y2=alt.Y2("i1"))
        tdf = pd.DataFrame(SCALEBAR_TEXT, columns=["label", "t", "i"])
        t1 = alt.Chart(tdf.iloc[[0]]).mark_text(font=FONT, fontSize=10, angle=270, align="center",
                                                baseline="bottom", color="#222222").encode(
            x=alt.X("t:Q", scale=xs, axis=None), y=alt.Y("i:Q", scale=ys, axis=None), text="label:N")
        t2 = alt.Chart(tdf.iloc[[1]]).mark_text(font=FONT, fontSize=10, align="center",
                                                baseline="top", color="#222222").encode(
            x=alt.X("t:Q", scale=xs, axis=None), y=alt.Y("i:Q", scale=ys, axis=None), text="label:N")
        layers += [bar, t1, t2]
    if i == 0:
        layers.append(letter_layer(3))
    return alt.layer(*layers).properties(width=W[3], height=HT)


rows = []
for i in range(5):
    last = i == 4
    a = scatter_panel(i, last)
    b = hist_panel(DUR_START[i], DUR_WIDTH[i], DUR_COUNTS[i], DUR_FITS[i], i, DUR_XDOM[i], DUR_XTICKS[i], "d",
                   DUR_YDOM[i], DUR_YTICKS[i], "Duration time (ms)" if last else None, 1)
    c = hist_panel(RES_START[i], RES_WIDTH[i], RES_COUNTS[i], RES_FITS[i], i, RES_XDOM[i], RES_XTICKS[i],
                   RES_XFMT[i], RES_YDOM[i], RES_YTICKS[i], "I/I\u2080" if last else None, 2)
    d = trace_panel(i)
    row = alt.hconcat(a, b, c, d, spacing=COL_GAP, bounds="flush").resolve_scale(color="independent")
    rows.append(row)

chart = rows[0]
for r, gap in zip(rows[1:], ROW_GAPS):
    chart = alt.vconcat(chart, r, spacing=gap).resolve_scale(color="independent")

chart = chart.properties(padding=0).configure_view(stroke=None).configure(font=FONT)
chart.save("out.html", embed_options={"renderer": "svg", "actions": False})
